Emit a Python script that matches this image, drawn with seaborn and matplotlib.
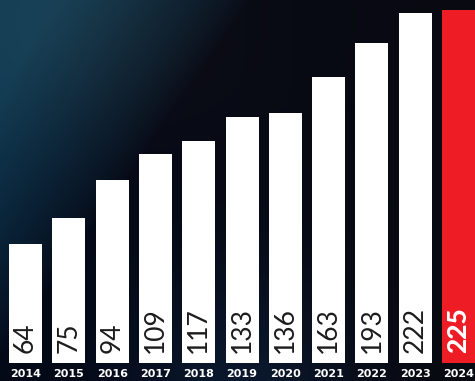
import numpy as np
import pandas as pd
import matplotlib
matplotlib.use("Agg")
import matplotlib.pyplot as plt
import seaborn as sns

years = ["2014", "2015", "2016", "2017", "2018", "2019", "2020", "2021", "2022", "2023", "2024"]
values = [64, 75, 94, 109, 117, 133, 136, 163, 193, 222, 225]
bar_colors = ["#ffffff"] * 10 + ["#ee1c25"]

sns.set_theme(style="white")
plt.rcParams["font.family"] = ["DejaVu Sans"]

W, H = 475, 381
fig = plt.figure(figsize=(W / 100, H / 100), dpi=100)

# background gradient
yy, xx = np.mgrid[0:H, 0:W].astype(float)
t = np.clip((250 - xx - 0.7 * yy) / 190.0, 0, 1)
t = t ** 0.8
glow = np.exp(-(((xx - 70) / 160) ** 2 + ((yy - 20) / 120) ** 2))
lx = np.clip(xx / W, 0, 1)[..., None]
base_left = np.array([4, 9, 24]) / 255
base_right = np.array([9, 10, 17]) / 255
base = base_left * (1 - lx) + base_right * lx
blue = np.array([14, 58, 84]) / 255
img = base + (blue - base_left)[None, None, :] * t[..., None]
img = img + np.array([10, 6, 2])[None, None, :] / 255 * glow[..., None]
bot = np.exp(-(((xx - 240) / 110) ** 2 + ((yy - 390) / 120) ** 2))
img = img + np.array([4, 14, 24])[None, None, :] / 255 * bot[..., None]
img = np.clip(img, 0, 1)

bg = fig.add_axes([0, 0, 1, 1])
bg.imshow(img, aspect="auto", interpolation="bilinear")
bg.set_axis_off()

ax = fig.add_axes([0, 18 / H, 1, 1 - 18 / H])
ax.set_facecolor("none")
df = pd.DataFrame({"year": years, "value": values})
sns.barplot(data=df, x="year", y="value", hue="year", palette=bar_colors,
            legend=False, width=0.76, saturation=1, ax=ax, linewidth=0)
ax.set_yscale("function", functions=(lambda v: np.power(np.clip(v, 0, None), 0.25),
                                     lambda u: np.power(np.clip(u, 0, None), 4)))
ax.set_ylim(27.85, 235.7)
ax.set_xlim(-0.59, 10.38)
for s in ax.spines.values():
    s.set_visible(False)
ax.set_yticks([], minor=False)
ax.set_yticks([], minor=True)
ax.set_ylabel("")
ax.set_xlabel("")
ax.tick_params(axis="x", length=0, pad=4.0, colors="white")
for lab in ax.get_xticklabels():
    lab.set_fontweight("bold")
    lab.set_fontsize(8)
    lab.set_color("white")

for i, v in enumerate(values):
    last = i == len(values) - 1
    ax.text(i, 0.028, str(v), transform=ax.get_xaxis_transform(),
            rotation=90, ha="center", va="bottom",
            fontsize=19,
            family=["Lato", "DejaVu Sans"],
            fontweight="black" if last else "normal",
            color="white" if last else "#1c1c1c")

fig.savefig("out.png", dpi=100)
